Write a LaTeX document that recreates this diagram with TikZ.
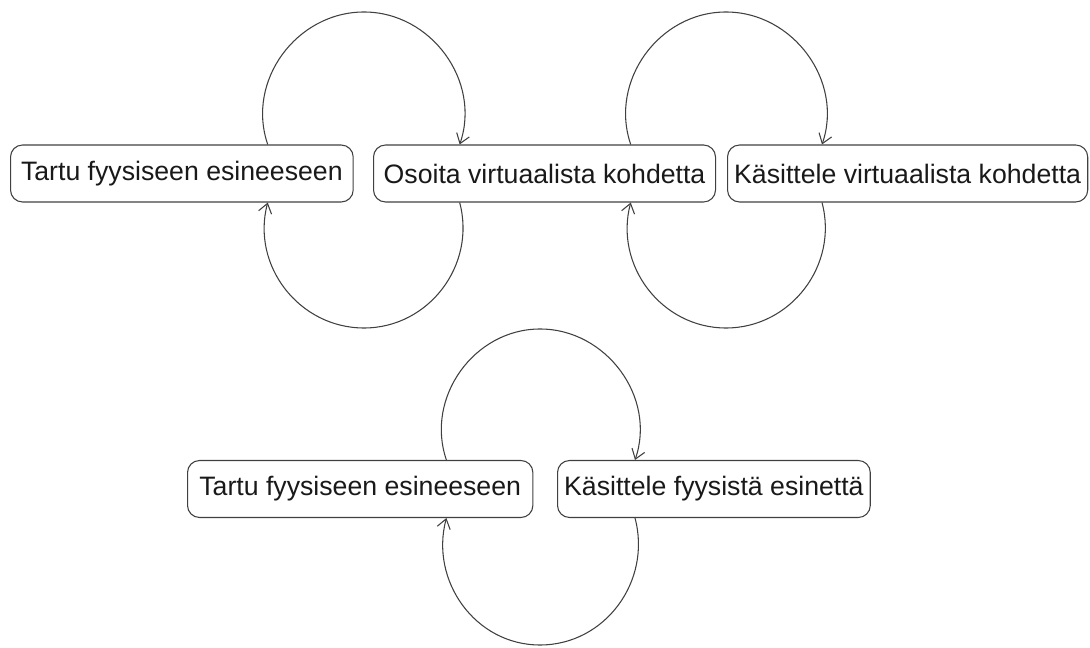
\documentclass[tikz,border=0pt]{standalone}
\usepackage{fontspec}
\setmainfont{Liberation Sans}
\usetikzlibrary{arrows.meta}

\tikzset{act/.style={draw=black!75, line width=0.8pt, rounded corners=9pt, inner xsep=5pt,
    minimum height=42.75pt, anchor=west, text=black!90, font=\fontsize{20}{24}\selectfont}}
\tikzset{cyc/.style={draw=black!75, line width=0.8pt}}

\begin{document}
\begin{tikzpicture}[x=0.75pt, y=0.75pt, >={Straight Barb[length=7pt,width=10pt]}]
    \useasboundingbox (0,0) rectangle (1090,647);

    % upper row
    \node[act, minimum width=257pt] (tartu) at (10,473.5) {Tartu fyysiseen esineeseen};
    \node[act, minimum width=256.5pt] (osoita) at (373,473.5) {Osoita virtuaalista kohdetta};
    \node[act, minimum width=270pt] (kasvirt) at (727,473.5) {Käsittele virtuaalista kohdetta};

    % lower row
    \node[act, minimum width=259pt] (tartufyys) at (187,158) {Tartu fyysiseen esineeseen};
    \node[act, minimum width=233pt] (kasfyys) at (557,158) {Käsittele fyysistä esinettä};

    % turning points of the loops
    \coordinate (upA) at (364,635);
    \coordinate (downA) at (364,319);
    \coordinate (upB) at (726,635);
    \coordinate (downB) at (726,319);
    \coordinate (upC) at (540,318);
    \coordinate (downC) at (540,2);

    \draw[cyc, ->] ([xshift=-64.5pt]tartu.north east) to[out=109, in=180, looseness=1.05] (upA) to[out=0, in=71, looseness=1.05] ([xshift=65pt]osoita.north west);
    \draw[cyc, ->] ([xshift=65pt]osoita.south west) to[out=-75, in=0, looseness=1.05] (downA) to[out=180, in=-105, looseness=1.05] ([xshift=-64.5pt]tartu.south east);

    \draw[cyc, ->] ([xshift=-64pt]osoita.north east) to[out=109, in=180, looseness=1.05] (upB) to[out=0, in=71, looseness=1.05] ([xshift=71.25pt]kasvirt.north west);
    \draw[cyc, ->] ([xshift=71.25pt]kasvirt.south west) to[out=-75, in=0, looseness=1.05] (downB) to[out=180, in=-105, looseness=1.05] ([xshift=-64pt]osoita.south east);

    \draw[cyc, ->] ([xshift=-65.25pt]tartufyys.north east) to[out=109, in=180, looseness=1.05] (upC) to[out=0, in=71, looseness=1.05] ([xshift=58.5pt]kasfyys.north west);
    \draw[cyc, ->] ([xshift=58.5pt]kasfyys.south west) to[out=-75, in=0, looseness=1.05] (downC) to[out=180, in=-105, looseness=1.05] ([xshift=-65.25pt]tartufyys.south east);

\end{tikzpicture}
\end{document}
